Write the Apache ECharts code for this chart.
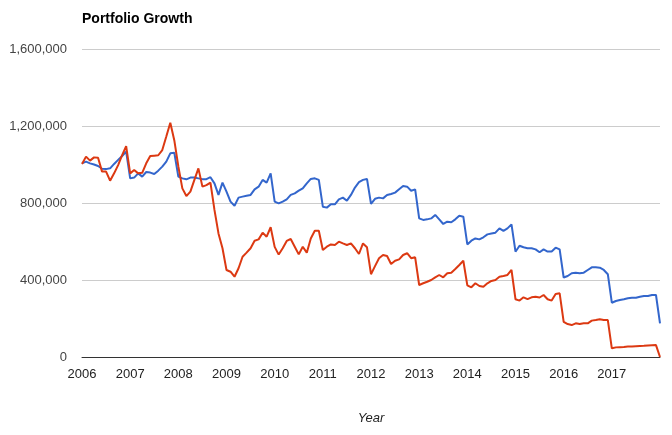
<!DOCTYPE html>
<html>
<head>
<meta charset="utf-8">
<script src="https://cdn.jsdelivr.net/npm/echarts@6/dist/echarts.min.js"></script>
<style>
  html, body { margin: 0; padding: 0; background: #fff; }
  #chart { width: 672px; height: 435px; }
</style>
</head>
<body>
<div id="chart"></div>
<script>
// Monthly values, Jan 2006 .. Jan 2018 (in thousands)
const startYear = 2006;
const yearTicks = [2006, 2007, 2008, 2009, 2010, 2011, 2012, 2013, 2014, 2015, 2016, 2017];
const seriesA = [
  1006, 1015, 1006, 1000, 992, 978, 976, 980, 1003, 1024, 1044, 1067,
  928, 932, 954, 937, 961, 958, 951, 968, 989, 1015, 1058, 1061,
  937, 928, 923, 932, 932, 928, 924, 924, 934, 902, 842, 906,
  859, 807, 786, 828, 833, 838, 842, 871, 885, 920, 906, 954,
  807, 798, 807, 819, 842, 850, 864, 876, 902, 925, 928, 920,
  781, 776, 793, 793, 819, 828, 812, 842, 880, 908, 920, 925,
  796, 822, 828, 824, 842, 847, 854, 871, 888, 885, 864, 871,
  720, 712, 715, 720, 738, 715, 691, 703, 700, 715, 734, 729,
  585, 604, 616, 611, 622, 637, 642, 646, 668, 655, 668, 689,
  547, 578, 570, 565, 565, 559, 544, 559, 548, 548, 568, 559,
  413, 421, 435, 438, 435, 438, 452, 466, 466, 464, 452, 430,
  282, 291, 296, 300, 305, 308, 308, 313, 317, 317, 322, 322,
  175
];
const seriesB = [
  1003, 1041, 1020, 1037, 1035, 963, 963, 916, 954, 997, 1049, 1095,
  954, 971, 954, 957, 1006, 1044, 1046, 1048, 1075, 1145, 1217, 1125,
  990, 876, 836, 859, 920, 980, 885, 893, 906, 764, 642, 565,
  452, 443, 417, 461, 521, 542, 565, 604, 611, 646, 625, 674,
  572, 532, 565, 603, 613, 573, 533, 573, 542, 616, 656, 656,
  556, 573, 585, 582, 599, 590, 582, 590, 565, 535, 590, 570,
  430, 472, 513, 530, 525, 483, 500, 507, 530, 539, 513, 518,
  374, 383, 391, 400, 414, 426, 414, 435, 438, 457, 478, 500,
  372, 362, 383, 369, 365, 383, 395, 400, 417, 421, 426, 452,
  300, 293, 310, 301, 310, 313, 309, 322, 300, 293, 327, 331,
  183, 171, 166, 175, 171, 175, 175, 189, 192, 196, 192, 192,
  45, 50, 51, 52, 54, 55, 56, 57, 58, 60, 61, 62,
  0
];

function toPoints(arr) {
  return arr.map((v, i) => [startYear + i / 12, v * 1000]);
}

const chart = echarts.init(document.getElementById('chart'), null, { renderer: 'canvas' });
chart.setOption({
  animation: false,
  backgroundColor: '#ffffff',
  title: {
    text: 'Portfolio Growth',
    left: 82,
    top: 12,
    padding: 0,
    textStyle: { fontFamily: 'Liberation Sans, Arial, sans-serif', fontSize: 14, fontWeight: 'bold', color: '#000' }
  },
  grid: { left: 82, right: 12, top: 49, bottom: 78, containLabel: false },
  xAxis: {
    type: 'value',
    min: 2006,
    max: 2018,
    interval: 1,
    name: 'Year',
    nameLocation: 'middle',
    nameGap: 55,
    nameTextStyle: { fontFamily: 'Liberation Sans, Arial, sans-serif', fontSize: 13, fontStyle: 'italic', color: '#222' },
    axisLine: { show: true, onZero: false, lineStyle: { color: '#333', width: 1 } },
    axisTick: { show: false },
    splitLine: { show: false },
    axisLabel: {
      margin: 11,
      color: '#222',
      fontFamily: 'Liberation Sans, Arial, sans-serif',
      fontSize: 13,
      formatter: function (v) { return yearTicks.indexOf(Math.round(v)) >= 0 ? String(Math.round(v)) : ''; }
    }
  },
  yAxis: {
    type: 'value',
    min: 0,
    max: 1600000,
    interval: 400000,
    axisLine: { show: false },
    axisTick: { show: false },
    splitLine: { show: true, lineStyle: { color: '#cccccc', width: 1 } },
    axisLabel: {
      margin: 15,
      color: '#444',
      fontFamily: 'Liberation Sans, Arial, sans-serif',
      fontSize: 13,
      formatter: function (v) { return v.toLocaleString('en-US'); }
    }
  },
  series: [
    {
      name: 'Portfolio A',
      type: 'line',
      data: toPoints(seriesA),
      showSymbol: false,
      symbol: 'none',
      lineStyle: { color: '#3366cc', width: 2 },
      itemStyle: { color: '#3366cc' }
    },
    {
      name: 'Portfolio B',
      type: 'line',
      data: toPoints(seriesB),
      showSymbol: false,
      symbol: 'none',
      lineStyle: { color: '#dc3912', width: 2 },
      itemStyle: { color: '#dc3912' }
    }
  ]
});
</script>
</body>
</html>
